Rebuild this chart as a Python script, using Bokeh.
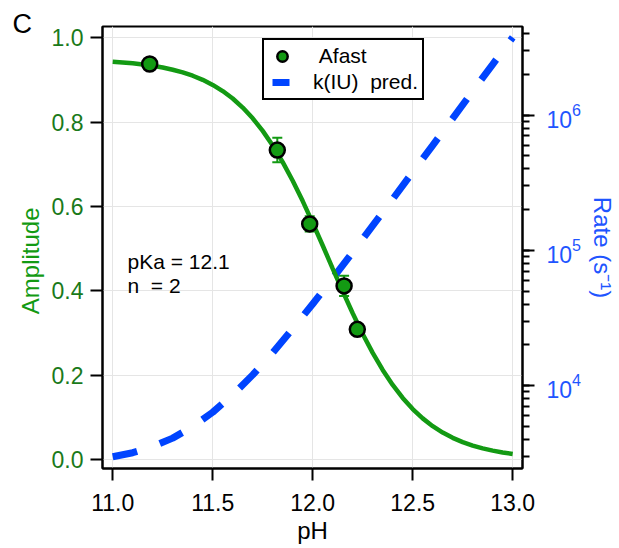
from bokeh.plotting import figure
from bokeh.models import (ColumnDataSource, Range1d, LinearAxis, LogAxis, LogScale, LogTicker,
                          FixedTicker, PrintfTickFormatter, Whisker, TeeHead, Legend, LegendItem,
                          Label, Title)
from bokeh.embed import file_html
from bokeh.resources import INLINE

# ---------------- data ----------------
panel_letter = "C"
x_title = "pH"
left_title = "Amplitude"
right_title = "Rate (s\u207b\u00b9)"
fit_lines = ["pKa = 12.1", "n\u00a0 = 2"]
legend_labels = ["\u00a0Afast", "k(IU)\u00a0 pred."]

x_ticks = [11.0, 11.5, 12.0, 12.5, 13.0]
amp_ticks = [0.0, 0.2, 0.4, 0.6, 0.8, 1.0]

# measured Afast points with error bars
afast_ph = [11.185, 11.823, 11.985, 12.157, 12.223]
afast_amp = [0.938, 0.734, 0.559, 0.412, 0.309]
afast_err = [0.005, 0.029, 0.018, 0.024, 0.008]

# fitted curve (green)
fit_ph = [11.00, 11.05, 11.10, 11.15, 11.20, 11.25, 11.30, 11.35, 11.40, 11.45,
          11.50, 11.55, 11.60, 11.65, 11.70, 11.75, 11.80, 11.85, 11.90, 11.95,
          12.00, 12.05, 12.10, 12.15, 12.20, 12.25, 12.30, 12.35, 12.40, 12.45,
          12.50, 12.55, 12.60, 12.65, 12.70, 12.75, 12.80, 12.85, 12.90, 12.95, 13.00]
fit_amp = [0.9435, 0.9418, 0.9397, 0.9371, 0.9338, 0.9297, 0.9245, 0.9182, 0.9103, 0.9005,
           0.8885, 0.8739, 0.8562, 0.8348, 0.8094, 0.7795, 0.7449, 0.7054, 0.6613, 0.6131,
           0.5615, 0.5077, 0.4531, 0.3992, 0.3470, 0.2980, 0.2531, 0.2127, 0.1771, 0.1463,
           0.1200, 0.0978, 0.0794, 0.0642, 0.0517, 0.0415, 0.0333, 0.0266, 0.0213, 0.0170, 0.0135]

# predicted k(IU) rate (blue dashed, right log axis)
pred_ph = [11.0, 11.1, 11.2, 11.3, 11.4, 11.5, 11.6, 11.7, 11.8, 11.9, 12.0,
           12.1, 12.2, 12.3, 12.4, 12.5, 12.6, 12.7, 12.8, 12.9, 13.0]
pred_rate = [2980, 3190, 3540, 4090, 4970, 6350, 8540, 12000, 17500, 26300, 40100,
             62000, 96800, 152000, 239000, 378000, 597000, 944000, 1500000, 2370000, 3750000]

# ---------------- styling ----------------
GREEN = "#139a13"
GREEN_TXT = "#1a7a1a"
BLUE = "#0044ff"
BLUE_TXT = "#1f55ff"
FONT = "Liberation Sans"

p = figure(width=619, height=548, output_backend="svg", toolbar_location=None,
           x_range=Range1d(10.949, 13.049), y_range=Range1d(-0.021, 1.027),
           min_border_left=102, min_border_right=97, min_border_top=26, min_border_bottom=80,
           x_axis_location=None, y_axis_location=None)
p.extra_y_ranges = {"rate": Range1d(2438, 4.51e6)}
p.extra_y_scales = {"rate": LogScale()}
p.outline_line_color = "black"
p.outline_line_width = 2
p.outline_line_alpha = 1.0
p.background_fill_color = "white"
p.border_fill_color = "white"


def style_axis(ax, label_color, title_color):
    ax.axis_line_width = 2
    ax.axis_line_color = "black"
    ax.major_tick_line_width = 2
    ax.major_tick_line_color = "black"
    ax.minor_tick_line_width = 2
    ax.minor_tick_line_color = "black"
    ax.major_tick_in = 0
    ax.major_tick_out = 12
    ax.minor_tick_in = 0
    ax.minor_tick_out = 7
    ax.major_label_text_font = FONT
    ax.major_label_text_font_size = "23px"
    ax.major_label_text_color = label_color
    ax.axis_label_text_font = FONT
    ax.axis_label_text_font_size = "24px"
    ax.axis_label_text_font_style = "normal"
    ax.axis_label_text_color = title_color


xax = LinearAxis(ticker=FixedTicker(ticks=x_ticks), formatter=PrintfTickFormatter(format="%.1f"),
                 axis_label=x_title)
style_axis(xax, "black", "black")
xax.major_label_standoff = 13
xax.axis_label_standoff = 3
p.add_layout(xax, "below")

yax = LinearAxis(ticker=FixedTicker(ticks=amp_ticks), formatter=PrintfTickFormatter(format="%.1f"),
                 axis_label=left_title + "\u00a0" * 4)
style_axis(yax, GREEN_TXT, GREEN)
yax.major_label_standoff = 7
yax.axis_label_standoff = 5
p.add_layout(yax, "left")

rax = LogAxis(y_range_name="rate", ticker=LogTicker(num_minor_ticks=10), axis_label=right_title)
style_axis(rax, BLUE_TXT, BLUE_TXT)
rax.major_label_standoff = 12
rax.axis_label_standoff = 5
p.add_layout(rax, "right")

# ---------------- glyphs ----------------
pred_r = p.line(pred_ph, pred_rate, y_range_name="rate", line_color=BLUE, line_width=7,
                line_dash="25 24", line_cap="butt")
fit_r = p.line(fit_ph, fit_amp, line_color=GREEN, line_width=4.5)

src = ColumnDataSource(dict(
    x=afast_ph, y=afast_amp,
    lo=[a - e for a, e in zip(afast_amp, afast_err)],
    hi=[a + e for a, e in zip(afast_amp, afast_err)],
))
wh = Whisker(source=src, base="x", upper="hi", lower="lo", dimension="height",
             line_color=GREEN, line_width=2,
             upper_head=TeeHead(size=10, line_color=GREEN, line_width=2),
             lower_head=TeeHead(size=10, line_color=GREEN, line_width=2))
p.add_layout(wh)
pts = p.scatter("x", "y", source=src, size=15, marker="circle", fill_color=GREEN,
                line_color="black", line_width=2.5)

# legend-only swatch for the dashed series (short dash as in the reference key);
# it holds a single NaN so nothing is drawn in the plot area
nan = float("nan")
key_dash = p.line(x=[nan], y=[nan], y_range_name="rate", line_color=BLUE, line_width=7,
                  line_dash="0 5 17 100", line_cap="butt")

# ---------------- legend ----------------
leg = Legend(items=[LegendItem(label=legend_labels[0], renderers=[pts]),
                    LegendItem(label=legend_labels[1], renderers=[key_dash])],
             location=(160, 368), orientation="vertical", padding=3, spacing=0, margin=0,
             glyph_width=30, glyph_height=26, label_height=26, label_width=106, label_standoff=16,
             border_line_color="black", border_line_width=2, border_line_alpha=1.0,
             background_fill_color="white", background_fill_alpha=1.0,
             label_text_font=FONT, label_text_font_size="21px", label_text_color="black")
p.add_layout(leg, "center")

# ---------------- texts ----------------
p.add_layout(Title(text=panel_letter, align="left", offset=-90, standoff=-25,
                   text_font=FONT, text_font_size="27px", text_font_style="normal",
                   text_color="black"), "above")
p.add_layout(Label(x=25, y=207, x_units="screen", y_units="screen", text=fit_lines[0],
                   text_font=FONT, text_font_size="21px", text_baseline="alphabetic",
                   text_color="black"))
p.add_layout(Label(x=25, y=183, x_units="screen", y_units="screen", text=fit_lines[1],
                   text_font=FONT, text_font_size="21px", text_baseline="alphabetic",
                   text_color="black"))

open("out.html", "w").write(file_html(p, INLINE))
